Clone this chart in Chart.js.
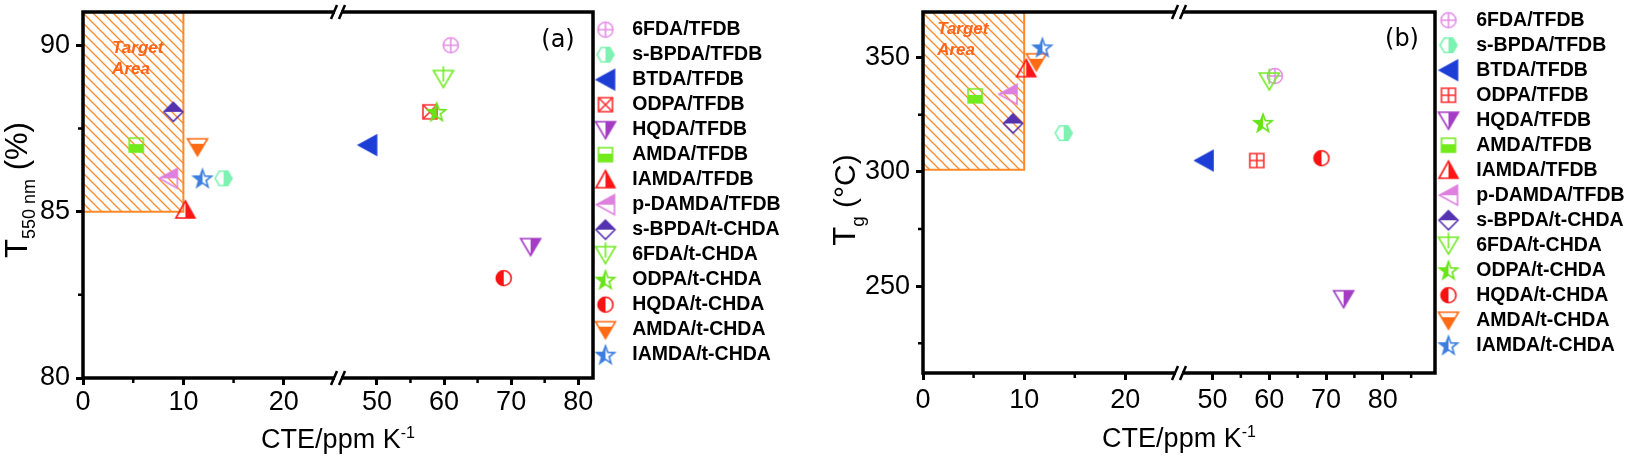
<!DOCTYPE html>
<html><head><meta charset="utf-8">
<script src="https://cdn.jsdelivr.net/npm/chart.js@4/dist/chart.umd.min.js"></script>
<style>
html,body{margin:0;padding:0;background:#fff;overflow:hidden;width:1630px;height:462px}
#wrap{position:relative;width:1630px;height:462px;background:#fff;overflow:hidden}
#boxA{position:absolute;left:0;top:0;width:800px;height:462px;overflow:hidden}
#boxB{position:absolute;left:800px;top:0;width:830px;height:462px;overflow:hidden}
canvas{display:block}
</style></head><body>
<div id="wrap"><div id="boxA"><canvas id="cA" width="800" height="462"></canvas></div><div id="boxB"><canvas id="cB" width="830" height="462"></canvas></div></div>
<script>
// ---------- data ----------
const seriesNames = ['6FDA/TFDB','s-BPDA/TFDB','BTDA/TFDB','ODPA/TFDB','HQDA/TFDB','AMDA/TFDB','IAMDA/TFDB','p-DAMDA/TFDB','s-BPDA/t-CHDA','6FDA/t-CHDA','ODPA/t-CHDA','HQDA/t-CHDA','AMDA/t-CHDA','IAMDA/t-CHDA'];
// panel (a): CTE (ppm/K) and transmittance at 550 nm (%)
const cteA   = [61, 14, 48.6, 57.9, 72.9, 5.3, 10.2, 8.5, 9.0, 59.9, 58.9, 68.9, 11.4, 11.9];
const transA = [90, 86, 87, 88, 83.95, 87, 85.05, 86, 88, 89, 88, 83, 86.95, 86];
// panel (b): CTE (ppm/K) and Tg (°C)
const cteB = [61, 13.9, 48.5, 57.8, 73.1, 5.15, 10.2, 8.4, 8.9, 60, 58.9, 69.2, 11.2, 11.8];
const tgB  = [342, 317, 305, 305, 244.5, 333.3, 345.2, 334, 321.2, 339.8, 321.5, 306, 348.2, 354.5];
// tick labels
const yTicksA = [80, 85, 90], yMinorA = [82.5, 87.5];
const yTicksB = [250, 300, 350], yMinorB = [225, 275, 325];
const xTicksLeft = [0, 10, 20], xMinorLeft = [5, 15];
const xTicksRight = [50, 60, 70, 80];
const xMinorRightA = [55, 65, 75], xMinorRightB = [55, 65, 75, 85];
// target areas
const targetA = {cteMax: 10, yMin: 85};
const targetB = {cteMax: 10, yMin: 301};

// ---------- styles ----------
const colors = ['#e58ee6','#7df2b2','#1d3ed6','#ff2e2e','#a43cc4','#73ea1c','#fe1616','#de80de','#5432b0','#72ea22','#68e418','#f81212','#ff6a14','#3d7fe0'];
const shapesA = [
  {shape:'circle', fill:'none', extra:'plus'},
  {shape:'hex', fill:'R'},
  {shape:'triLeft', fill:'full'},
  {shape:'square', fill:'none', extra:'x'},
  {shape:'triDown', fill:'R'},
  {shape:'square', fill:'B', cut:-1},
  {shape:'triUp', fill:'R'},
  {shape:'triLeft', fill:'T'},
  {shape:'diamond', fill:'T'},
  {shape:'triDown', fill:'none', extra:'vline'},
  {shape:'star', fill:'L'},
  {shape:'circle', fill:'L'},
  {shape:'triDown', fill:'B', cut:-3},
  {shape:'star', fill:'L'}
];
const shapesB = shapesA.map((s,i) => i === 3 ? {shape:'square', fill:'none', extra:'plus'} : s);
const family = "'Liberation Sans', Arial, Helvetica, sans-serif";
const orange = '#ff8a2a';
const legendFontSize = 19.5, legendPad = 5.5;

function shapePath(g, kind) {
  g.beginPath();
  if (kind === 'circle') { g.arc(0, 0, 7.5, 0, Math.PI * 2); }
  else if (kind === 'hex') { for (let k = 0; k < 6; k++) { const a = k * Math.PI / 3; const px = 8.5 * Math.cos(a), py = 8.3 * Math.sin(a); k ? g.lineTo(px, py) : g.moveTo(px, py); } }
  else if (kind === 'triLeft') { g.moveTo(-9, 0); g.lineTo(9, -10); g.lineTo(9, 10); }
  else if (kind === 'triDown') { g.moveTo(-10, -8); g.lineTo(10, -8); g.lineTo(0, 9); }
  else if (kind === 'triUp') { g.moveTo(0, -9); g.lineTo(9.5, 8); g.lineTo(-9.5, 8); }
  else if (kind === 'square') { g.rect(-7, -7, 14, 14); }
  else if (kind === 'diamond') { g.moveTo(0, -9.5); g.lineTo(9.5, 0); g.lineTo(0, 9.5); g.lineTo(-9.5, 0); }
  else if (kind === 'star') { for (let k = 0; k < 10; k++) { const r = k % 2 ? 3.9 : 9.5; const a = -Math.PI / 2 + k * Math.PI / 5; const px = r * Math.cos(a), py = r * Math.sin(a) + 0.8; k ? g.lineTo(px, py) : g.moveTo(px, py); } }
  g.closePath();
}
function makeMarker(spec, color, w, h, cx, cy) {
  const c = document.createElement('canvas'); c.width = w; c.height = h;
  const g = c.getContext('2d');
  g.translate(cx, cy);
  g.lineWidth = 1.6; g.strokeStyle = color; g.fillStyle = color; g.lineJoin = 'miter';
  if (spec.fill !== 'none') {
    g.save();
    if (spec.fill !== 'full') {
      const R = 14; g.beginPath();
      if (spec.fill === 'L') g.rect(-R, -R, R, 2 * R);
      if (spec.fill === 'R') g.rect(0, -R, R, 2 * R);
      if (spec.fill === 'T') g.rect(-R, -R, 2 * R, R);
      if (spec.fill === 'B') g.rect(-R, spec.cut || 0, 2 * R, R);
      g.clip();
    }
    shapePath(g, spec.shape); g.fill(); g.restore();
  }
  shapePath(g, spec.shape); g.stroke();
  g.beginPath();
  if (spec.extra === 'plus') { const r = spec.shape === 'circle' ? 7.5 : 7; g.moveTo(-r, 0); g.lineTo(r, 0); g.moveTo(0, -r); g.lineTo(0, r); }
  if (spec.extra === 'x') { g.moveTo(-7, -7); g.lineTo(7, 7); g.moveTo(7, -7); g.lineTo(-7, 7); }
  if (spec.extra === 'vline') { g.moveTo(0, -12.5); g.lineTo(0, 3); }
  g.stroke();
  return c;
}
function makeHatch(ctx) {
  const t = document.createElement('canvas'); t.width = 10; t.height = 10;
  const g = t.getContext('2d'); g.strokeStyle = orange; g.lineWidth = 1.3;
  g.beginPath(); g.moveTo(-2, -2); g.lineTo(12, 12); g.moveTo(-2, 8); g.lineTo(2, 12); g.moveTo(8, -2); g.lineTo(12, 2); g.stroke();
  return ctx.createPattern(t, 'repeat');
}
function drawRich(ctx, parts) {
  let total = 0;
  const ws = parts.map(p => { ctx.font = p.size + 'px ' + family; const w = ctx.measureText(p.t).width; total += w; return w; });
  let x = -total / 2;
  parts.forEach((p, i) => { ctx.font = p.size + 'px ' + family; ctx.fillText(p.t, x, p.dy || 0); x += ws[i]; });
}
// natural width of the Chart.js legend box (so the plot's right edge lands where wanted)
function legendWidth(boxW) {
  const g = document.createElement('canvas').getContext('2d');
  g.font = 'bold ' + legendFontSize + 'px ' + family;
  const maxText = Math.max(...seriesNames.map(s => g.measureText(s).width));
  return legendPad + boxW + legendFontSize / 2 + maxText + 10;
}

const decor = {
  id: 'decor',
  afterDatasetsDraw(chart, args, o) {
    const {ctx, chartArea: a, scales} = chart;
    const xL = scales.xL, xR = scales.xR, y = scales.y;
    ctx.save();
    // target area label
    ctx.fillStyle = '#ff6418'; ctx.font = 'italic bold 17px ' + family; ctx.textAlign = 'left'; ctx.textBaseline = 'middle';
    o.targetText.forEach((t, k) => ctx.fillText(t, xL.getPixelForValue(o.targetAt.x), y.getPixelForValue(o.targetAt.y[k])));
    // frame
    ctx.strokeStyle = '#000'; ctx.lineWidth = 3.5; ctx.strokeRect(a.left, a.top, a.width, a.height);
    // minor ticks
    ctx.lineWidth = 2.5; ctx.beginPath();
    o.yMinor.forEach(v => { const py = y.getPixelForValue(v); ctx.moveTo(a.left, py); ctx.lineTo(a.left - 5, py); });
    o.xMinorL.forEach(v => { const px = xL.getPixelForValue(v); ctx.moveTo(px, a.bottom); ctx.lineTo(px, a.bottom + 5); });
    o.xMinorR.forEach(v => { const px = xR.getPixelForValue(v); if (px < a.right - 2) { ctx.moveTo(px, a.bottom); ctx.lineTo(px, a.bottom + 5); } });
    ctx.stroke();
    // axis break marks
    const bx = xL.right;
    [a.top, a.bottom].forEach(yy => {
      ctx.fillStyle = '#fff'; ctx.fillRect(bx - 3, yy - 2.5, 6, 5);
      ctx.strokeStyle = '#000'; ctx.lineWidth = 2.5; ctx.beginPath();
      ctx.moveTo(bx - 7, yy + 7); ctx.lineTo(bx - 1, yy - 7);
      ctx.moveTo(bx + 1, yy + 7); ctx.lineTo(bx + 7, yy - 7);
      ctx.stroke();
    });
    // panel label
    ctx.fillStyle = '#000'; ctx.font = "24px 'DejaVu Sans', sans-serif"; ctx.textAlign = 'center'; ctx.textBaseline = 'middle';
    ctx.fillText(o.panel, a.right + o.panelDx, a.top + o.panelDy);
    // axis titles
    ctx.textAlign = 'left'; ctx.textBaseline = 'alphabetic';
    ctx.save(); ctx.translate((a.left + a.right) / 2, a.bottom + o.xTitleDy); drawRich(ctx, o.xTitle); ctx.restore();
    ctx.save(); ctx.translate(a.left - o.yTitleDx, (a.top + a.bottom) / 2 + o.yTitleDy); ctx.rotate(-Math.PI / 2); drawRich(ctx, o.yTitle); ctx.restore();
    ctx.restore();
  }
};

function buildChart(id, P) {
  const canvas = document.getElementById(id);
  const ctx = canvas.getContext('2d');
  const pointImgs = P.shapes.map((s, i) => makeMarker(s, colors[i], 26, 26, 13, 13));
  const legendImgs = P.shapes.map((s, i) => makeMarker(s, colors[i], 36, 26, 13, 13));
  const datasets = seriesNames.map((name, i) => ({
    label: name,
    data: [{x: P.cte[i], y: P.val[i]}],
    xAxisID: P.cte[i] <= P.xLmax ? 'xL' : 'xR', yAxisID: 'y',
    pointStyle: pointImgs[i], pointRadius: 9, pointHoverRadius: 9,
    backgroundColor: colors[i], borderColor: colors[i], order: -i
  }));
  datasets.push({
    type: 'line', label: 'Target Area',
    data: [{x: 0, y: P.target.yMin}, {x: P.target.cteMax, y: P.target.yMin}, {x: P.target.cteMax, y: P.yMax}, {x: 0, y: P.yMax}, {x: 0, y: P.target.yMin}],
    xAxisID: 'xL', yAxisID: 'y', fill: 'shape', backgroundColor: makeHatch(ctx), borderColor: orange, borderWidth: 2,
    pointRadius: 0, pointHoverRadius: 0, tension: 0, order: 100
  });
  const tickFont = {family: family, size: 27};
  const gridOpts = {display: true, drawOnChartArea: false, drawTicks: true, tickLength: 7, lineWidth: 3, tickWidth: 3, tickColor: '#000'};
  const xAxis = (min, max, ticksArr) => ({
    type: 'linear', position: 'bottom', stack: 'bx', stackWeight: 1, min: min, max: max,
    grid: gridOpts, border: {display: false},
    ticks: {font: tickFont, color: '#000', padding: P.xTickPad, autoSkip: false, maxRotation: 0, includeBounds: false},
    afterBuildTicks: s => { s.ticks = ticksArr.map(v => ({value: v})); },
    afterFit: s => { s.height = P.xAxisH; s.paddingLeft = 0; s.paddingRight = 0; s.paddingTop = 0; s.paddingBottom = 0; }
  });
  const scales = {
    xL: xAxis(0, P.xLmax, xTicksLeft),
    xR: xAxis(P.xRmin, P.xRmax, xTicksRight),
    y: {
      type: 'linear', position: 'left', min: P.yMin, max: P.yMax,
      grid: gridOpts, border: {display: false},
      ticks: {font: tickFont, color: '#000', padding: 6, autoSkip: false, includeBounds: false},
      afterBuildTicks: s => { s.ticks = P.yTicks.map(v => ({value: v})); },
      afterFit: s => { s.width = P.yAxisW; s.paddingTop = 0; s.paddingBottom = 0; s.paddingLeft = 0; s.paddingRight = 0; }
    }
  };
  if (P.topGap) {
    scales.xt = {type: 'linear', position: 'top', min: 0, max: 1, display: true,
      grid: {display: false, drawTicks: false}, ticks: {display: false}, border: {display: false},
      afterFit: s => { s.height = P.topGap; s.paddingLeft = 0; s.paddingRight = 0; s.paddingTop = 0; s.paddingBottom = 0; }};
  }
  const padRight = canvas.width - P.plotRight - legendWidth(P.boxW);
  return new Chart(ctx, {
    type: 'scatter',
    data: {datasets: datasets},
    plugins: [decor],
    options: {
      responsive: false, animation: false, devicePixelRatio: 1,
      layout: {padding: {top: P.padTop, left: 0, right: padRight, bottom: 0}},
      scales: scales,
      plugins: {
        tooltip: {enabled: false},
        legend: {
          position: 'right', align: 'start',
          title: {display: P.legendGap > 0, text: '', padding: 0, font: {size: P.legendGap || 1, lineHeight: 1.2}},
          labels: {
            usePointStyle: true, pointStyleWidth: P.boxW, padding: legendPad, color: '#000',
            font: {family: family, size: legendFontSize, weight: 'bold'},
            generateLabels: () => seriesNames.map((s, i) => ({
              text: s, pointStyle: legendImgs[i], fillStyle: colors[i], strokeStyle: colors[i],
              lineWidth: 0, hidden: false, datasetIndex: i, fontColor: '#000'
            }))
          }
        },
        decor: P.decor
      }
    }
  });
}

buildChart('cA', {
  cte: cteA, val: transA, shapes: shapesA, target: targetA,
  xLmax: 25.4, xRmin: 44.2, xRmax: 82.2, yMin: 80, yMax: 91, yTicks: yTicksA,
  yAxisW: 83, xAxisH: 84, padTop: 12, plotRight: 593, topGap: 0, legendGap: 2, boxW: 24, xTickPad: 1,
  decor: {
    targetText: ['Target', 'Area'], targetAt: {x: 2.9, y: [89.92, 89.29]},
    yMinor: yMinorA, xMinorL: xMinorLeft, xMinorR: xMinorRightA,
    panel: '(a)', panelDx: -35, panelDy: 29,
    xTitle: [{t: 'CTE/ppm K', size: 27}, {t: '-1', size: 16, dy: -10}], xTitleDy: 70,
    yTitle: [{t: 'T', size: 31}, {t: '550 nm', size: 18, dy: 8}, {t: ' (%)', size: 31}], yTitleDx: 56, yTitleDy: -5
  }
});
buildChart('cB', {
  cte: cteB, val: tgB, shapes: shapesB, target: targetB,
  xLmax: 25.3, xRmin: 44.1, xRmax: 89.2, yMin: 212, yMax: 370, yTicks: yTicksB,
  yAxisW: 123, xAxisH: 89, padTop: 5, plotRight: 635, topGap: 7, legendGap: 0, boxW: 26, xTickPad: 4,
  decor: {
    targetText: ['Target', 'Area'], targetAt: {x: 1.4, y: [362.5, 353.4]},
    yMinor: yMinorB, xMinorL: xMinorLeft, xMinorR: xMinorRightB,
    panel: '(b)', panelDx: -33, panelDy: 28,
    xTitle: [{t: 'CTE/ppm K', size: 27}, {t: '-1', size: 16, dy: -10}], xTitleDy: 74,
    yTitle: [{t: 'T', size: 31}, {t: 'g', size: 19, dy: 9}, {t: ' (°C)', size: 30}], yTitleDx: 68, yTitleDy: 7.5
  }
});
</script>
</body></html>
